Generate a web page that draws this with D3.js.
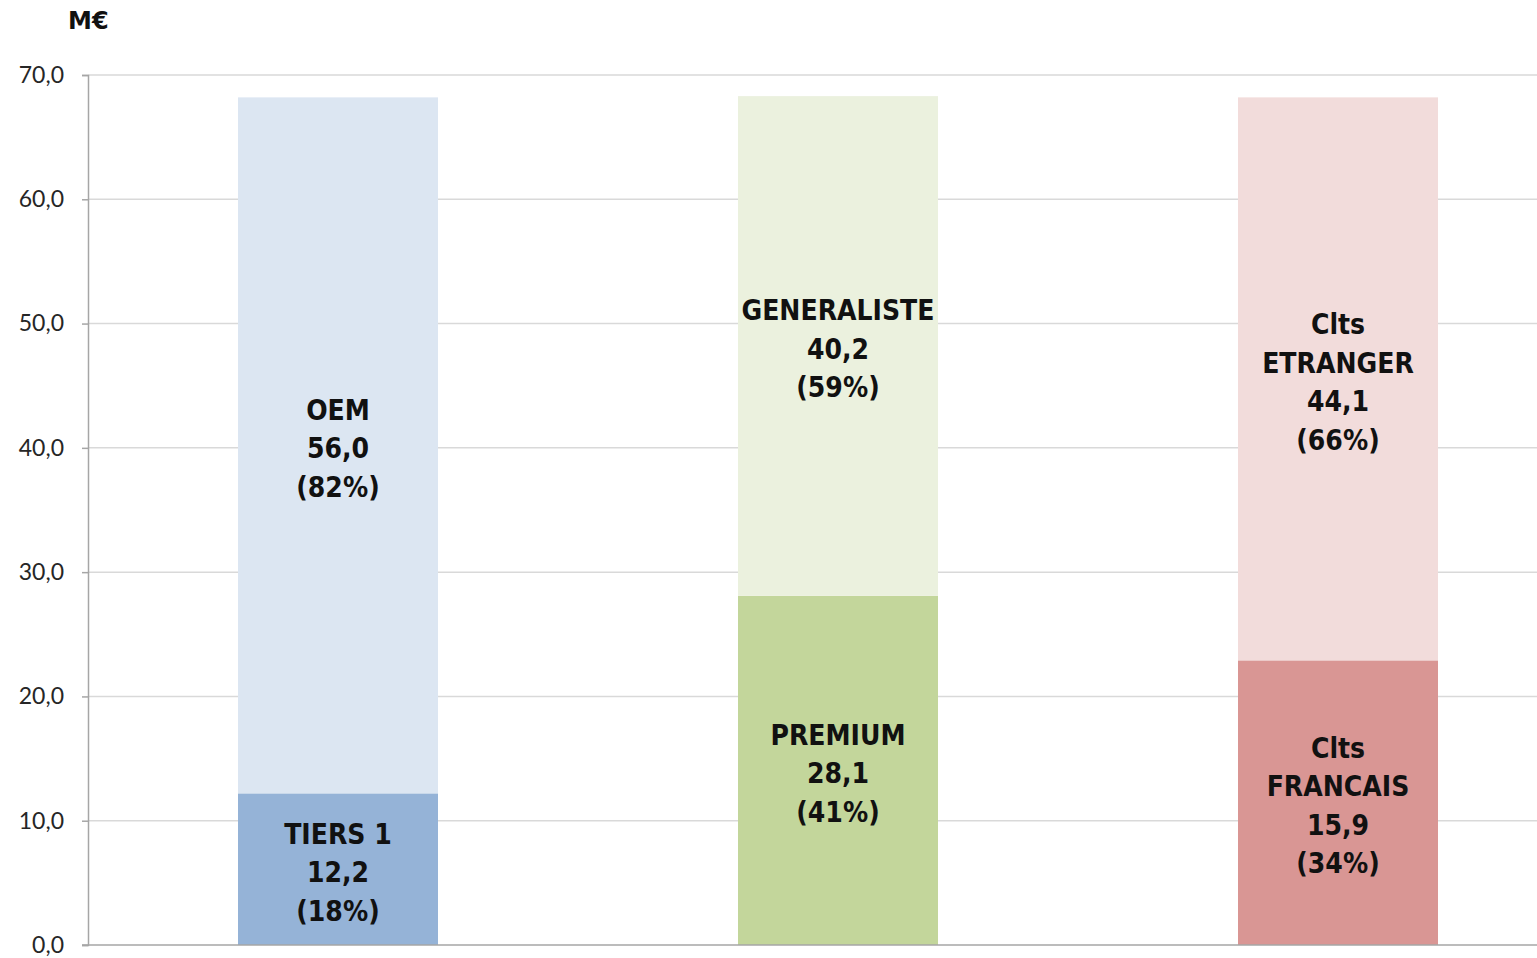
<!DOCTYPE html>
<html><head><meta charset="utf-8">
<script src="https://cdn.jsdelivr.net/npm/d3@7"></script>
<style>body{margin:0;background:#fff}svg{display:block}</style>
</head><body>
<script>
const categories = ["A", "B", "C"];
const bottomValues = [12.2, 28.1, 22.9];
const topValues = [56.0, 40.2, 45.3];
const bottomNames = [["TIERS 1"], ["PREMIUM"], ["Clts", "FRANCAIS"]];
const topNames = [["OEM"], ["GENERALISTE"], ["Clts", "ETRANGER"]];
const bottomLabels = ["12,2", "28,1", "15,9"];
const topLabels = ["56,0", "40,2", "44,1"];
const bottomPct = ["(18%)", "(41%)", "(34%)"];
const topPct = ["(82%)", "(59%)", "(66%)"];
const bottomColors = ["#95b3d7", "#c3d69b", "#d99694"];
const topColors = ["#dce6f2", "#ebf1de", "#f2dcdb"];
const yTicks = [0, 10, 20, 30, 40, 50, 60, 70];

const W = 1537, H = 958;
const svg = d3.select("body").append("svg").attr("width", W).attr("height", H);
const x = d3.scaleBand().domain(categories).range([88, 1588]).paddingInner(0.6).paddingOuter(0.3);
const y = d3.scaleLinear().domain([0, 70]).range([945, 75]);

// gridlines
svg.append("g").selectAll("line").data(yTicks.filter(d => d > 0)).join("line")
  .attr("x1", 88).attr("x2", W).attr("y1", d => y(d)).attr("y2", d => y(d))
  .attr("stroke", "#d9d9d9").attr("stroke-width", 1.5);

// bars
const g = svg.append("g");
categories.forEach((c, i) => {
  g.append("rect").attr("x", x(c)).attr("width", x.bandwidth())
    .attr("y", y(bottomValues[i])).attr("height", y(0) - y(bottomValues[i])).attr("fill", bottomColors[i]);
  g.append("rect").attr("x", x(c)).attr("width", x.bandwidth())
    .attr("y", y(bottomValues[i] + topValues[i])).attr("height", y(0) - y(topValues[i])).attr("fill", topColors[i]);
});

// axes
const yAxis = d3.axisLeft(y).tickValues(yTicks).tickSize(6).tickPadding(18)
  .tickFormat(d => d3.format(".1f")(d).replace(".", ","));
const ya = svg.append("g").attr("transform", "translate(88,0)").call(yAxis);
ya.select(".domain").attr("stroke", "#a6a6a6").attr("stroke-width", 1.5);
ya.selectAll(".tick line").attr("stroke", "#a6a6a6").attr("stroke-width", 1.5);
ya.selectAll(".tick text").attr("font-family", "Lato, 'Liberation Sans', sans-serif")
  .attr("font-size", 23).attr("fill", "#262626");
svg.append("line").attr("x1", 82).attr("x2", W).attr("y1", y(0)).attr("y2", y(0))
  .attr("stroke", "#a6a6a6").attr("stroke-width", 1.5);

svg.append("text").attr("x", 68).attr("y", 29).text("M€")
  .attr("font-family", "'DejaVu Sans', sans-serif").attr("font-weight", "bold")
  .attr("font-size", 24).attr("fill", "#111");

// labels
const lineH = 38.5;
function labelBlock(cx, cy, lines) {
  const n = lines.length;
  const t = svg.append("text").attr("text-anchor", "middle")
    .attr("font-family", "'DejaVu Sans Condensed', 'DejaVu Sans', sans-serif")
    .attr("font-stretch", "condensed").attr("font-weight", "bold")
    .attr("font-size", 28).attr("fill", "#111");
  lines.forEach((l, k) => {
    t.append("tspan").attr("x", cx).attr("y", cy + (k - (n - 1) / 2) * lineH + 13).text(l);
  });
}
categories.forEach((c, i) => {
  const cx = x(c) + x.bandwidth() / 2;
  labelBlock(cx, (y(0) + y(bottomValues[i])) / 2, [...bottomNames[i], bottomLabels[i], bottomPct[i]]);
  labelBlock(cx, (y(bottomValues[i]) + y(bottomValues[i] + topValues[i])) / 2, [...topNames[i], topLabels[i], topPct[i]]);
});
</script>
</body></html>
